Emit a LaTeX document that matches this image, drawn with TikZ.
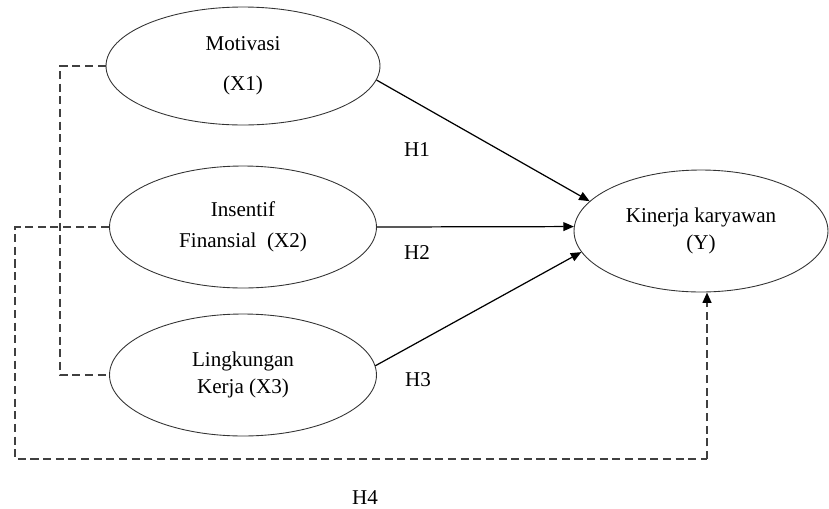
\documentclass[tikz,border=0pt]{standalone}
\usepackage{fontspec}
\setmainfont{Liberation Serif}
\usetikzlibrary{arrows.meta, shapes.geometric}
\begin{document}
\begin{tikzpicture}[x=0.02cm, y=-0.02cm,
        var/.style={draw=black!80, line width=0.5pt, shape=ellipse, inner sep=0pt, align=center, font=\fontsize{12}{14.5}\selectfont},
        hyp/.style={font=\fontsize{12}{14.5}\selectfont},
        path/.style={draw, line width=0.7pt, -{Triangle[length=6pt, width=5pt]}},
        link/.style={draw=black!75, line width=1.2pt, dash pattern=on 4.6pt off 2.6pt}]
        \useasboundingbox (0, 0) rectangle (829, 508);

        \node (X1) at (243, 66) [var, minimum width=5.48cm, minimum height=2.36cm] {Motivasi\\[8.5pt](X1)};
        \node (X2) at (243, 227) [var, minimum width=5.34cm, minimum height=2.44cm] {Insentif\\[3.5pt]Finansial\ \ (X2)};
        \node (X3) at (243, 375) [var, minimum width=5.34cm, minimum height=2.44cm] {Lingkungan\\[1pt]Kerja (X3)};
        \node (Y) at (701, 231) [var, minimum width=5.08cm, minimum height=2.44cm] {Kinerja karyawan\\[0.5pt](Y)};

        \node (H1) at (417, 150) [hyp] {H1};
        \node (H2) at (417, 253) [hyp] {H2};
        \node (H3) at (418, 380) [hyp] {H3};
        \node (H4) at (365, 498) [hyp] {H4};

        \coordinate (a1) at (60, 66);
        \coordinate (a2) at (60, 375);
        \coordinate (b1) at (15, 227);
        \coordinate (b2) at (15, 459);
        \coordinate (b3) at (707, 459);

        \draw [path] (X1.-6) -- (Y.165);
        \draw [path] (X2.east) -- (Y.178);
        \draw [path] (X3.4) -- (Y.190);

        \draw [link] (X1.west) -- (a1) -- (a2) -- (X3.west);
        \draw [link] (X2.west) -- (b1) -- (b2) -- (b3);
        \draw [link, -{Triangle[length=6pt, width=5pt, fill=black, color=black]}] (b3) -- (Y.south -| b3);
    \end{tikzpicture}
\end{document}
